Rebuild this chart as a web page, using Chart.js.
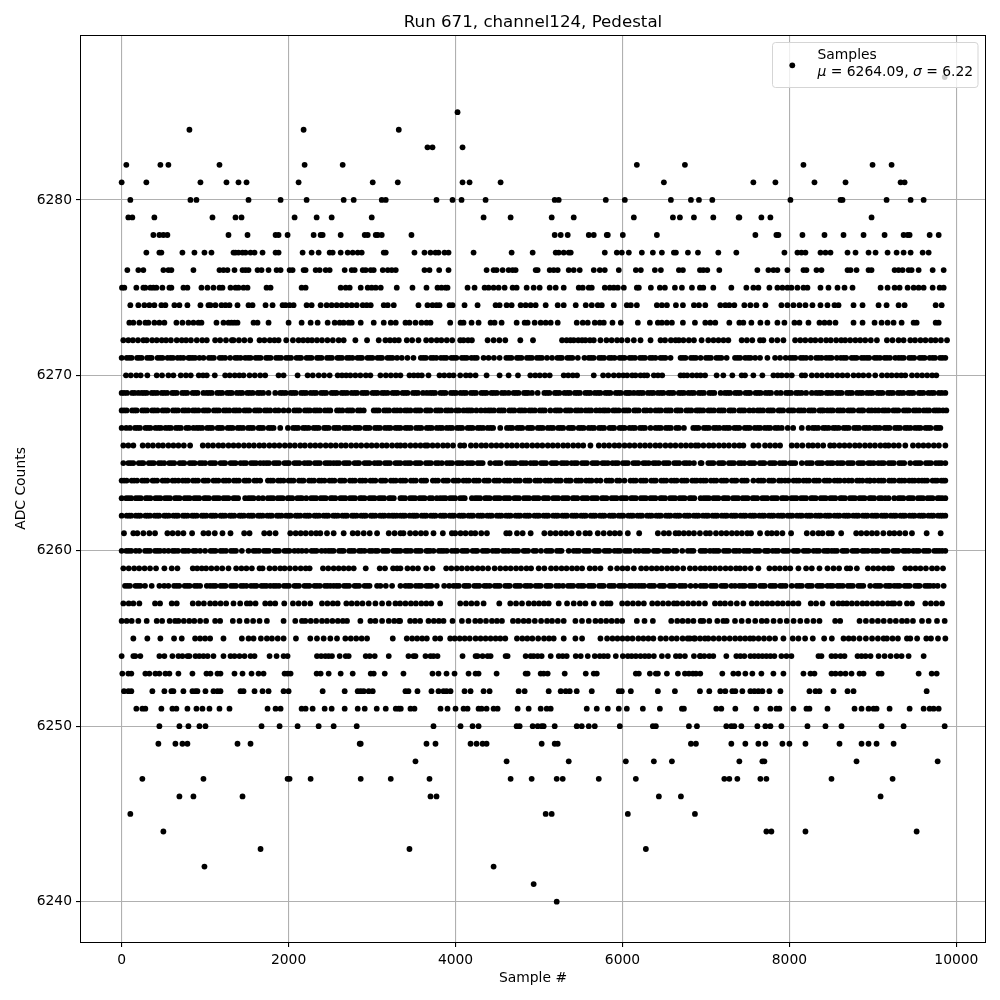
<!DOCTYPE html>
<html>
<head>
<meta charset="utf-8">
<script src="https://cdn.jsdelivr.net/npm/chart.js@4"></script>
<style>
body { margin: 0; background: #fff; }
</style>
</head>
<body>
<canvas id="scatter-chart" width="1000" height="1000"></canvas>
<script>
// sample numbers, one list per ADC level
const adc6287 = [9860];
const adc6285 = [4024];
const adc6284 = [812, 2180, 3320];
const adc6283 = [3664, 3724, 4084];
const adc6282 = [56, 464, 560, 1172, 2192, 2648, 6172, 6748, 8168, 8996, 9224];
const adc6281 = [0, 296, 944, 1256, 1400, 1496, 2120, 3008, 3308, 4084, 4168, 4540, 6496, 7568, 7832, 8300, 8672, 9332, 9380];
const adc6280 = [104, 824, 896, 1520, 1904, 2216, 2660, 2780, 3116, 3164, 3772, 3964, 4072, 4360, 5188, 5236, 5800, 6028, 6580, 6820, 6916, 7076, 8012, 8612, 8636, 9164, 9452, 9608];
const adc6279 = [80, 128, 392, 1088, 1364, 1436, 2072, 2336, 2516, 2996, 4336, 4660, 5152, 5416, 6136, 6604, 6688, 6856, 7088, 7392, 7400, 7664, 7772, 8984];
const adc6278 = [380, 452, 500, 548, 1280, 1508, 1844, 1880, 1988, 2300, 2384, 2408, 2624, 2912, 2948, 3044, 3068, 3116, 3472, 5188, 5260, 5344, 5596, 5656, 5812, 5824, 6004, 6412, 7592, 7844, 7868, 8156, 8420, 8648, 8888, 9140, 9368, 9416, 9440, 9680, 9788];
const adc6277 = [296, 452, 476, 728, 872, 992, 1076, 1340, 1364, 1400, 1448, 1484, 1544, 1592, 1688, 1844, 1880, 2168, 2276, 2360, 2492, 2528, 2624, 2708, 2768, 2828, 2876, 3140, 3164, 3508, 3628, 3700, 3760, 3796, 3868, 3916, 4216, 4672, 4924, 5200, 5236, 5296, 5356, 5380, 5788, 5932, 5992, 6076, 6232, 6364, 6472, 6616, 6640, 6784, 6904, 7148, 7364, 7940, 8096, 8144, 8192, 8372, 8432, 8492, 8696, 8792, 8948, 9032, 9176, 9284, 9368, 9452, 9596, 9668];
const adc6276 = [68, 200, 260, 500, 560, 596, 860, 1172, 1220, 1268, 1352, 1448, 1484, 1520, 1628, 1676, 1760, 1856, 1904, 2012, 2048, 2180, 2204, 2324, 2372, 2444, 2492, 2672, 2756, 2792, 2888, 2924, 2984, 3020, 3128, 3188, 3236, 3284, 3628, 3688, 3804, 3916, 4372, 4456, 4492, 4564, 4636, 4684, 4720, 4960, 4984, 5128, 5176, 5224, 5356, 5416, 5488, 5656, 5728, 5788, 5956, 6160, 6220, 6388, 6460, 6676, 6724, 6928, 6968, 7016, 7160, 7616, 7748, 7808, 7856, 7976, 8168, 8204, 8324, 8384, 8696, 8732, 8804, 8948, 8984, 9260, 9308, 9356, 9428, 9464, 9548, 9716, 9848];
const adc6275 = [4, 32, 176, 260, 284, 344, 380, 416, 488, 572, 596, 740, 788, 956, 1028, 1100, 1172, 1208, 1304, 1364, 1400, 1460, 1508, 1736, 1784, 2156, 2204, 2624, 2684, 2732, 2864, 2948, 2996, 3044, 3104, 3296, 3484, 3652, 3784, 3832, 3880, 3904, 4144, 4228, 4348, 4396, 4456, 4516, 4588, 4684, 4732, 4852, 4936, 5008, 5128, 5200, 5296, 5476, 5524, 5596, 5632, 5788, 5848, 5896, 5944, 6016, 6172, 6196, 6340, 6448, 6508, 6628, 6712, 6832, 6928, 6968, 7088, 7304, 7484, 7568, 7628, 7760, 7856, 7916, 7976, 8024, 8096, 8168, 8216, 8372, 8468, 8576, 8660, 8756, 9092, 9176, 9260, 9320, 9416, 9488, 9548, 9608, 9716, 9800, 9848];
const adc6274 = [104, 200, 272, 332, 392, 476, 524, 632, 692, 788, 944, 1040, 1064, 1124, 1196, 1244, 1292, 1388, 1520, 1568, 1724, 1808, 1928, 1964, 2012, 2060, 2216, 2276, 2384, 2456, 2516, 2576, 2636, 2696, 2756, 2816, 2888, 2936, 2984, 3140, 3188, 3260, 3556, 3664, 3724, 3772, 3808, 3928, 3964, 4108, 4264, 4480, 4528, 4612, 4672, 4780, 4840, 4900, 4960, 5080, 5224, 5296, 5440, 5560, 5632, 5704, 5752, 5896, 6052, 6100, 6172, 6412, 6472, 6532, 6640, 6724, 6856, 6916, 6992, 7172, 7232, 7280, 7340, 7460, 7532, 7604, 7712, 7904, 7976, 8048, 8120, 8192, 8276, 8372, 8456, 8540, 8588, 8768, 8876, 9068, 9164, 9308, 9380, 9752, 9824];
const adc6273 = [92, 140, 212, 284, 320, 392, 452, 512, 656, 728, 800, 860, 920, 956, 1136, 1220, 1280, 1316, 1352, 1388, 1580, 1628, 1760, 2000, 2156, 2264, 2348, 2468, 2552, 2612, 2660, 2720, 2756, 2864, 3020, 3140, 3224, 3284, 3400, 3448, 3520, 3592, 3652, 3700, 3936, 4060, 4096, 4192, 4276, 4420, 4468, 4552, 4732, 4828, 4864, 4948, 5020, 5080, 5140, 5224, 5452, 5524, 5584, 5668, 5728, 5776, 5880, 5980, 6184, 6328, 6424, 6472, 6532, 6592, 6724, 6868, 6992, 7052, 7112, 7280, 7400, 7448, 7544, 7652, 7736, 7856, 7940, 8060, 8120, 8228, 8360, 8420, 8480, 8552, 8768, 8876, 9020, 9104, 9176, 9248, 9344, 9488, 9524, 9752, 9788];
const adc6272 = [20, 80, 135, 196, 260, 300, 365, 420, 480, 532, 590, 660, 720, 772, 830, 900, 965, 1020, 1120, 1180, 1250, 1320, 1340, 1405, 1470, 1540, 1652, 1710, 1775, 1830, 1880, 1972, 2052, 2120, 2175, 2230, 2280, 2340, 2400, 2465, 2530, 2600, 2660, 2800, 2940, 3080, 3160, 3215, 3270, 3320, 3416, 3480, 3556, 3648, 3710, 3775, 3830, 3895, 3960, 4056, 4096, 4150, 4196, 4384, 4456, 4525, 4596, 4776, 4928, 5276, 5330, 5376, 5416, 5470, 5516, 5556, 5610, 5656, 5736, 5808, 5870, 5935, 5990, 6060, 6136, 6216, 6336, 6456, 6510, 6580, 6636, 6676, 6730, 6795, 6856, 6948, 7028, 7090, 7150, 7210, 7268, 7428, 7490, 7555, 7648, 7688, 7788, 7855, 7928, 8068, 8130, 8190, 8255, 8310, 8375, 8440, 8495, 8560, 8620, 8668, 8728, 8790, 8848, 8908, 8975, 9048, 9168, 9235, 9308, 9368, 9448, 9505, 9570, 9630, 9695, 9750, 9815, 9888];
const adc6271 = [0, 60, 120, 185, 240, 305, 360, 430, 490, 550, 615, 670, 740, 800, 820, 880, 932, 980, 1045, 1105, 1175, 1240, 1300, 1360, 1425, 1480, 1545, 1605, 1665, 1730, 1785, 1850, 1910, 1970, 2030, 2095, 2150, 2215, 2275, 2340, 2395, 2460, 2520, 2585, 2640, 2700, 2765, 2825, 2880, 2945, 3005, 3065, 3120, 3185, 3245, 3300, 3356, 3424, 3496, 3584, 3645, 3705, 3770, 3825, 3890, 3950, 4010, 4075, 4135, 4190, 4255, 4336, 4396, 4460, 4528, 4608, 4670, 4735, 4790, 4855, 4915, 4975, 5035, 5096, 5156, 5220, 5275, 5340, 5400, 5465, 5544, 5596, 5655, 5720, 5780, 5840, 5905, 5965, 6025, 6085, 6150, 6210, 6270, 6330, 6395, 6455, 6515, 6576, 6696, 6755, 6820, 6880, 6936, 7000, 7060, 7125, 7185, 7248, 7348, 7410, 7470, 7535, 7590, 7648, 7736, 7828, 7888, 7955, 8008, 8070, 8135, 8200, 8256, 8320, 8385, 8440, 8505, 8568, 8616, 8680, 8745, 8805, 8865, 8928, 8956, 9020, 9085, 9140, 9205, 9268, 9308, 9370, 9435, 9495, 9560, 9620, 9680, 9745, 9805, 9868];
const more6271 = [90, 210, 335, 460, 585, 705, 850, 1075, 1205, 1390, 1515, 1635, 1755, 1880, 2000, 2125, 2245, 2365, 2490, 2610, 2730, 2855, 2975, 3095, 3215, 3615, 3735, 3860, 3980, 4105, 4225, 4640, 4760, 4885, 5005, 5250, 5370, 5625, 5750, 5870, 5995, 6115, 6240, 6360, 6485, 6725, 6850, 7030, 7155, 7380, 7505, 8040, 8165, 8350, 8475, 8650, 8775, 8895, 9050, 9170, 9340, 9465, 9590, 9715, 9835];
const adc6270 = [52, 110, 175, 228, 308, 420, 484, 560, 620, 708, 770, 828, 924, 975, 1020, 1116, 1240, 1295, 1355, 1410, 1460, 1532, 1595, 1660, 1720, 1880, 1940, 2108, 2228, 2290, 2360, 2425, 2492, 2588, 2640, 2690, 2740, 2800, 2860, 2925, 2980, 3100, 3165, 3225, 3285, 3340, 3448, 3500, 3550, 3596, 3676, 3808, 3865, 3925, 3976, 4056, 4124, 4176, 4240, 4372, 4528, 4636, 4748, 4896, 4955, 5010, 5070, 5128, 5296, 5350, 5405, 5456, 5656, 5768, 5830, 5896, 5956, 6010, 6056, 6116, 6156, 6216, 6260, 6296, 6376, 6425, 6476, 6696, 6735, 6776, 6836, 6890, 6936, 6990, 7128, 7208, 7316, 7428, 7468, 7568, 7676, 7808, 7860, 7908, 7968, 8028, 8148, 8188, 8268, 8330, 8390, 8455, 8510, 8575, 8635, 8695, 8768, 8828, 8885, 8950, 9028, 9108, 9170, 9225, 9285, 9340, 9388, 9468, 9530, 9590, 9650, 9710, 9760];
const adc6269 = [0, 65, 125, 200, 240, 300, 360, 425, 480, 545, 605, 660, 725, 785, 850, 910, 980, 1020, 1080, 1145, 1205, 1265, 1320, 1380, 1445, 1505, 1570, 1630, 1695, 1760, 1840, 1900, 1965, 2025, 2085, 2150, 2210, 2265, 2330, 2390, 2450, 2515, 2575, 2635, 2700, 2755, 2820, 2880, 2940, 3005, 3065, 3120, 3185, 3245, 3305, 3365, 3425, 3490, 3550, 3610, 3656, 3696, 3755, 3820, 3880, 3945, 4005, 4060, 4125, 4185, 4245, 4310, 4370, 4430, 4495, 4555, 4636, 4696, 4755, 4820, 4870, 4916, 4984, 5064, 5125, 5190, 5245, 5305, 5370, 5430, 5490, 5555, 5615, 5670, 5735, 5795, 5855, 5920, 5980, 6040, 6090, 6136, 6184, 6245, 6305, 6370, 6425, 6490, 6550, 6610, 6675, 6735, 6790, 6855, 6915, 6975, 7040, 7100, 7176, 7228, 7290, 7350, 7410, 7475, 7530, 7595, 7655, 7715, 7780, 7848, 7896, 7960, 8020, 8080, 8145, 8200, 8268, 8320, 8385, 8445, 8510, 8565, 8625, 8690, 8750, 8810, 8875, 8930, 8995, 9055, 9115, 9180, 9240, 9300, 9365, 9425, 9485, 9550, 9605, 9665, 9730, 9790, 9868];
const more6269 = [30, 155, 270, 390, 510, 630, 755, 880, 1050, 1175, 1295, 1415, 1535, 1660, 1930, 2055, 2180, 2300, 2420, 2545, 2665, 2790, 2910, 3035, 3150, 3275, 3395, 3520, 3725, 3850, 3975, 4095, 4215, 4340, 4460, 4590, 4725, 4845, 5095, 5215, 5340, 5460, 5585, 5705, 5825, 5950, 6065, 6215, 6340, 6460, 6580, 6705, 6825, 6945, 7070, 7260, 7380, 7505, 7625, 7750, 7990, 8110, 8355, 8475, 8595, 8720, 8845, 8965, 9085, 9210, 9330, 9455, 9575, 9700, 9825];
const adc6268 = [0, 60, 125, 180, 245, 305, 365, 430, 490, 550, 615, 675, 735, 800, 855, 920, 980, 1040, 1105, 1165, 1225, 1290, 1345, 1410, 1470, 1530, 1595, 1655, 1715, 1780, 1840, 1880, 1940, 2000, 2068, 2130, 2195, 2255, 2310, 2375, 2435, 2500, 2580, 2645, 2705, 2765, 2830, 2900, 3020, 3080, 3145, 3205, 3265, 3340, 3395, 3460, 3520, 3580, 3645, 3700, 3765, 3825, 3885, 3950, 4010, 4096, 4136, 4195, 4250, 4305, 4356, 4396, 4460, 4520, 4580, 4645, 4705, 4765, 4830, 4885, 4950, 5010, 5070, 5136, 5196, 5255, 5320, 5380, 5440, 5505, 5560, 5625, 5685, 5728, 5768, 5830, 5890, 5955, 6015, 6075, 6140, 6195, 6260, 6336, 6396, 6460, 6520, 6580, 6645, 6700, 6765, 6825, 6885, 6936, 6968, 7030, 7095, 7155, 7215, 7280, 7335, 7400, 7460, 7520, 7568, 7620, 7685, 7745, 7805, 7870, 7925, 7990, 8050, 8110, 8175, 8235, 8295, 8360, 8408, 8456, 8520, 8580, 8645, 8705, 8765, 8830, 8885, 8950, 9028, 9068, 9120, 9185, 9245, 9305, 9370, 9430, 9490, 9555, 9610, 9675, 9735, 9795, 9880];
const more6268 = [30, 155, 275, 395, 520, 645, 765, 885, 1010, 1135, 1255, 1375, 1500, 1625, 1745, 2100, 2225, 2340, 2470, 2610, 2735, 2860, 3050, 3175, 3300, 3425, 3550, 3670, 3795, 3915, 4040, 4165, 4425, 4550, 4675, 4795, 4915, 5040, 5225, 5350, 5470, 5595, 5795, 5920, 6045, 6165, 6290, 6430, 6550, 6670, 6795, 6910, 7060, 7185, 7305, 7430, 7650, 7775, 7895, 8020, 8140, 8265, 8385, 8490, 8610, 8735, 8860, 8985, 9150, 9275, 9400, 9520, 9645, 9765, 9840];
const adc6267 = [0, 55, 100, 160, 220, 285, 345, 405, 470, 525, 590, 650, 710, 775, 860, 900, 965, 1025, 1085, 1150, 1205, 1270, 1330, 1390, 1455, 1515, 1575, 1640, 1695, 1760, 1820, 1900, 1992, 2055, 2115, 2175, 2240, 2300, 2360, 2425, 2480, 2545, 2605, 2665, 2730, 2790, 2850, 2915, 2970, 3035, 3095, 3155, 3220, 3280, 3340, 3400, 3464, 3528, 3590, 3655, 3715, 3775, 3840, 3895, 3960, 4020, 4080, 4145, 4205, 4265, 4330, 4385, 4450, 4536, 4616, 4680, 4740, 4800, 4865, 4920, 4985, 5045, 5105, 5170, 5230, 5290, 5355, 5410, 5475, 5535, 5595, 5660, 5720, 5780, 5845, 5900, 5965, 6025, 6085, 6150, 6210, 6270, 6336, 6396, 6460, 6520, 6580, 6645, 6736, 6848, 6910, 6975, 7035, 7095, 7160, 7215, 7280, 7340, 7400, 7465, 7525, 7585, 7650, 7705, 7770, 7830, 7908, 7980, 8045, 8148, 8228, 8280, 8345, 8405, 8470, 8525, 8590, 8650, 8710, 8775, 8835, 8895, 8960, 9015, 9080, 9140, 9200, 9265, 9325, 9385, 9450, 9505, 9570, 9630, 9690, 9755, 9808];
const more6267 = [190, 315, 440, 560, 680, 805, 930, 1055, 1175, 1300, 1420, 1545, 1665, 1790, 2085, 2205, 2330, 2450, 2575, 2695, 2820, 2940, 3065, 3190, 3310, 3430, 3560, 3685, 3810, 3930, 4050, 4175, 4295, 4420, 4650, 4770, 4895, 5015, 5140, 5260, 5385, 5505, 5630, 5750, 5875, 5995, 6120, 6240, 6430, 6550, 6675, 6880, 7005, 7125, 7250, 7370, 7495, 7620, 7740, 7865, 8310, 8435, 8555, 8680, 8805, 8925, 9045, 9170, 9295, 9415, 9540, 9660, 9780];
const adc6266 = [20, 80, 140, 252, 315, 375, 440, 495, 560, 620, 680, 745, 820, 972, 1035, 1095, 1160, 1215, 1280, 1340, 1400, 1465, 1525, 1585, 1650, 1705, 1770, 1830, 1890, 1955, 2015, 2075, 2140, 2195, 2260, 2320, 2380, 2445, 2505, 2565, 2630, 2685, 2750, 2810, 2870, 2935, 2995, 3055, 3120, 3175, 3240, 3300, 3340, 3395, 3460, 3520, 3580, 3636, 3664, 3725, 3785, 3850, 3905, 3970, 4056, 4104, 4184, 4245, 4310, 4365, 4430, 4490, 4550, 4615, 4675, 4735, 4800, 4855, 4920, 4980, 5040, 5105, 5165, 5225, 5290, 5345, 5410, 5470, 5530, 5616, 5716, 5780, 5840, 5905, 5960, 6025, 6085, 6145, 6210, 6270, 6330, 6395, 6450, 6515, 6575, 6635, 6700, 6760, 6820, 6876, 6908, 6970, 7035, 7090, 7155, 7215, 7275, 7340, 7400, 7448, 7568, 7630, 7708, 7768, 7830, 7888, 8028, 8090, 8155, 8228, 8280, 8340, 8405, 8488, 8536, 8600, 8660, 8720, 8785, 8840, 8905, 8965, 9025, 9090, 9148, 9188, 9250, 9310, 9388, 9480, 9545, 9605, 9665, 9730, 9790, 9868];
const adc6265 = [20, 80, 140, 205, 260, 325, 385, 445, 510, 570, 630, 695, 750, 815, 875, 935, 1000, 1060, 1120, 1185, 1240, 1305, 1365, 1425, 1490, 1550, 1610, 1660, 1700, 1765, 1825, 1885, 1950, 2005, 2070, 2130, 2190, 2255, 2315, 2375, 2440, 2500, 2540, 2605, 2665, 2725, 2790, 2845, 2910, 2970, 3030, 3095, 3155, 3215, 3280, 3340, 3395, 3460, 3520, 3580, 3645, 3705, 3765, 3836, 3896, 3960, 4020, 4085, 4140, 4205, 4265, 4325, 4416, 4476, 4540, 4616, 4656, 4720, 4780, 4845, 4900, 4965, 5025, 5085, 5150, 5210, 5270, 5335, 5390, 5455, 5515, 5575, 5640, 5700, 5760, 5825, 5880, 5945, 6005, 6065, 6130, 6190, 6250, 6315, 6370, 6435, 6495, 6555, 6620, 6680, 6740, 6805, 6856, 6936, 6948, 7028, 7090, 7155, 7210, 7275, 7335, 7395, 7460, 7520, 7580, 7645, 7700, 7765, 7825, 7885, 7950, 8010, 8070, 8148, 8208, 8270, 8335, 8395, 8455, 8520, 8575, 8640, 8700, 8760, 8825, 8885, 8945, 9010, 9065, 9130, 9190, 9250, 9315, 9375, 9448, 9508, 9570, 9635, 9695, 9755, 9820, 9868];
const more6265 = [110, 235, 355, 475, 600, 725, 845, 965, 1090, 1215, 1335, 1460, 1580, 1735, 1855, 1980, 2100, 2225, 2345, 2470, 2575, 2695, 2820, 2940, 3065, 3185, 3310, 3430, 3550, 3675, 3795, 3930, 4050, 4175, 4295, 4510, 4690, 4810, 4935, 5055, 5180, 5300, 5425, 5545, 5670, 5790, 5915, 6035, 6160, 6280, 6400, 6525, 6650, 6770, 7060, 7185, 7305, 7425, 7550, 7675, 7795, 7920, 8040, 8240, 8365, 8490, 8610, 8730, 8855, 8975, 9100, 9220, 9345, 9540, 9665, 9790];
const adc6264 = [0, 60, 120, 185, 245, 305, 370, 425, 490, 550, 610, 680, 732, 795, 855, 915, 980, 1035, 1100, 1160, 1220, 1285, 1345, 1405, 1470, 1525, 1590, 1660, 1752, 1815, 1875, 1940, 2000, 2060, 2125, 2180, 2245, 2305, 2365, 2430, 2490, 2550, 2615, 2670, 2735, 2795, 2855, 2920, 2980, 3040, 3105, 3160, 3225, 3285, 3340, 3400, 3465, 3525, 3590, 3648, 3728, 3790, 3855, 3910, 3975, 4035, 4095, 4160, 4220, 4280, 4345, 4400, 4465, 4525, 4585, 4650, 4710, 4770, 4835, 4890, 4955, 5015, 5075, 5140, 5200, 5260, 5325, 5380, 5445, 5505, 5565, 5630, 5690, 5736, 5808, 5870, 5935, 6024, 6096, 6160, 6220, 6280, 6345, 6400, 6465, 6525, 6585, 6650, 6710, 6770, 6835, 6890, 6936, 7000, 7060, 7125, 7185, 7245, 7310, 7365, 7430, 7490, 7568, 7628, 7690, 7755, 7810, 7875, 7948, 7988, 8050, 8115, 8170, 8235, 8295, 8355, 8420, 8480, 8540, 8605, 8660, 8708, 8748, 8810, 8875, 8930, 8968, 9016, 9068, 9130, 9195, 9255, 9315, 9380, 9435, 9500, 9548, 9588, 9650, 9715, 9770, 9820, 9868];
const more6264 = [30, 150, 275, 395, 520, 640, 765, 885, 1005, 1130, 1250, 1375, 1495, 1620, 1785, 1905, 2030, 2155, 2275, 2395, 2520, 2640, 2765, 2885, 3010, 3130, 3255, 3370, 3495, 3620, 3760, 3885, 4005, 4130, 4250, 4375, 4495, 4620, 4740, 4865, 4985, 5110, 5230, 5355, 5475, 5600, 5840, 5965, 6130, 6250, 6375, 6495, 6620, 6740, 6865, 6970, 7095, 7215, 7340, 7460, 7660, 7785, 7905, 8085, 8205, 8325, 8450, 8575, 8840, 8960, 9100, 9225, 9345, 9470, 9620, 9745, 9845];
const adc6263 = [0, 55, 115, 170, 230, 290, 345, 405, 465, 520, 580, 640, 695, 755, 815, 870, 930, 990, 1045, 1105, 1165, 1220, 1280, 1340, 1395, 1480, 1520, 1580, 1640, 1692, 1752, 1815, 1870, 1930, 1990, 2045, 2105, 2160, 2212, 2270, 2330, 2385, 2445, 2505, 2560, 2620, 2680, 2735, 2795, 2855, 2910, 2970, 3030, 3085, 3145, 3205, 3260, 3340, 3395, 3455, 3515, 3570, 3630, 3690, 3776, 3816, 3880, 3935, 3995, 4055, 4110, 4196, 4236, 4295, 4355, 4410, 4470, 4530, 4585, 4645, 4705, 4760, 4820, 4880, 4935, 4995, 5055, 5110, 5170, 5230, 5285, 5345, 5405, 5460, 5520, 5580, 5635, 5695, 5755, 5810, 5870, 5930, 5985, 6045, 6105, 6160, 6220, 6280, 6335, 6395, 6455, 6510, 6570, 6630, 6685, 6745, 6805, 6860, 6936, 6975, 7035, 7090, 7150, 7210, 7265, 7325, 7385, 7440, 7500, 7560, 7615, 7675, 7735, 7790, 7850, 7910, 7965, 8025, 8085, 8140, 8200, 8260, 8315, 8375, 8435, 8490, 8550, 8610, 8665, 8725, 8785, 8840, 8900, 8960, 9015, 9075, 9148, 9188, 9256, 9308, 9365, 9425, 9480, 9540, 9600, 9655, 9715, 9775, 9830, 9868];
const more6263 = [85, 200, 315, 435, 550, 665, 785, 900, 1015, 1135, 1250, 1365, 1550, 1785, 1900, 2015, 2135, 2300, 2415, 2530, 2650, 2765, 2880, 3000, 3115, 3230, 3365, 3485, 3600, 3720, 3850, 3965, 4085, 4265, 4380, 4500, 4615, 4730, 4850, 4965, 5080, 5200, 5315, 5430, 5550, 5665, 5780, 5900, 6015, 6130, 6250, 6365, 6480, 6600, 6715, 6830, 7005, 7120, 7235, 7355, 7470, 7585, 7705, 7820, 7935, 8055, 8170, 8285, 8405, 8520, 8635, 8755, 8870, 8985, 9105, 9335, 9450, 9570, 9685, 9800];
const adc6262 = [0, 60, 115, 170, 225, 285, 340, 395, 450, 510, 565, 620, 675, 735, 790, 845, 900, 960, 1015, 1070, 1125, 1185, 1240, 1295, 1350, 1410, 1465, 1520, 1575, 1635, 1690, 1745, 1800, 1860, 1915, 1970, 2025, 2085, 2140, 2195, 2250, 2310, 2365, 2420, 2475, 2535, 2590, 2645, 2700, 2760, 2815, 2870, 2925, 2985, 3040, 3095, 3150, 3200, 3240, 3295, 3340, 3395, 3450, 3488, 3536, 3595, 3650, 3705, 3760, 3820, 3875, 3930, 3985, 4045, 4100, 4155, 4210, 4270, 4325, 4380, 4435, 4495, 4550, 4605, 4660, 4720, 4775, 4830, 4885, 4945, 5000, 5055, 5110, 5170, 5225, 5280, 5335, 5395, 5450, 5505, 5560, 5620, 5675, 5730, 5785, 5845, 5900, 5955, 6010, 6070, 6125, 6180, 6235, 6295, 6350, 6405, 6460, 6520, 6575, 6630, 6685, 6745, 6800, 6855, 6910, 6965, 7025, 7080, 7135, 7190, 7250, 7305, 7360, 7415, 7475, 7530, 7585, 7640, 7700, 7755, 7810, 7865, 7925, 7980, 8035, 8090, 8150, 8205, 8260, 8315, 8375, 8430, 8485, 8540, 8600, 8655, 8710, 8765, 8825, 8880, 8935, 8990, 9050, 9105, 9160, 9215, 9275, 9330, 9385, 9440, 9500, 9555, 9610, 9665, 9725, 9780, 9835, 9868];
const more6262 = [90, 200, 310, 425, 535, 650, 760, 870, 985, 1095, 1210, 1320, 1435, 1550, 1660, 1775, 1885, 2000, 2110, 2225, 2335, 2450, 2560, 2675, 2785, 2900, 3010, 3125, 3265, 3370, 3510, 3625, 3735, 3850, 3960, 4075, 4185, 4300, 4410, 4525, 4635, 4750, 4860, 4975, 5085, 5200, 5310, 5425, 5535, 5650, 5760, 5875, 5985, 6100, 6210, 6325, 6435, 6550, 6660, 6775, 6885, 7000, 7110, 7225, 7335, 7450, 7560, 7675, 7785, 7900, 8010, 8125, 8235, 8350, 8460, 8575, 8685, 8800, 8910, 9025, 9135, 9250, 9360, 9475, 9585, 9700, 9810];
const adc6261 = [28, 140, 188, 260, 332, 400, 548, 610, 675, 740, 844, 980, 1040, 1116, 1208, 1304, 1468, 1532, 1708, 1772, 1844, 2020, 2085, 2145, 2205, 2270, 2330, 2380, 2460, 2540, 2660, 2768, 2828, 2900, 2972, 3060, 3200, 3270, 3340, 3376, 3456, 3520, 3585, 3645, 3736, 3848, 3956, 3996, 4060, 4120, 4185, 4236, 4308, 4376, 4608, 4648, 4736, 4804, 4900, 5064, 5136, 5200, 5265, 5325, 5390, 5476, 5556, 5608, 5704, 5775, 5848, 5908, 5968, 6064, 6200, 6424, 6496, 6556, 6636, 6676, 6735, 6795, 6856, 6928, 7000, 7048, 7120, 7185, 7245, 7310, 7370, 7430, 7495, 7540, 7648, 7736, 7788, 7848, 7916, 8020, 8208, 8280, 8348, 8396, 8468, 8508, 8620, 8800, 8860, 8925, 8988, 9048, 9125, 9200, 9256, 9320, 9388, 9468, 9644, 9812];
const adc6260 = [0, 55, 115, 170, 212, 280, 340, 400, 460, 510, 560, 612, 675, 735, 800, 860, 940, 1000, 1065, 1125, 1185, 1250, 1310, 1370, 1440, 1520, 1580, 1645, 1705, 1765, 1830, 1885, 1950, 2010, 2070, 2160, 2212, 2275, 2335, 2395, 2440, 2480, 2540, 2605, 2660, 2725, 2785, 2845, 2910, 2970, 3040, 3068, 3130, 3190, 3255, 3310, 3340, 3400, 3465, 3525, 3585, 3650, 3696, 3736, 3800, 3860, 3896, 3956, 4020, 4080, 4140, 4205, 4260, 4325, 4385, 4445, 4510, 4570, 4636, 4688, 4750, 4815, 4870, 4935, 5024, 5088, 5150, 5215, 5270, 5356, 5416, 5480, 5540, 5600, 5665, 5720, 5785, 5845, 5905, 5970, 6030, 6090, 6155, 6196, 6248, 6310, 6375, 6430, 6495, 6555, 6615, 6716, 6784, 6850, 6936, 6965, 7048, 7088, 7150, 7215, 7275, 7335, 7400, 7455, 7520, 7580, 7640, 7705, 7748, 7800, 7865, 7925, 7985, 8050, 8105, 8170, 8230, 8290, 8355, 8415, 8468, 8508, 8570, 8635, 8690, 8755, 8815, 8875, 8940, 8995, 9060, 9120, 9180, 9245, 9305, 9365, 9430, 9485, 9550, 9610, 9670, 9735, 9795, 9868];
const more6260 = [85, 310, 430, 640, 765, 890, 1095, 1215, 1340, 1610, 1735, 1855, 1980, 2115, 2305, 2510, 2635, 2755, 2875, 3000, 3160, 3285, 3430, 3555, 3670, 3830, 3990, 4110, 4235, 4355, 4480, 4600, 4720, 4840, 4965, 5120, 5245, 5450, 5570, 5695, 5815, 5940, 6060, 6280, 6405, 6525, 6645, 6820, 6995, 7120, 7245, 7365, 7490, 7610, 7730, 7835, 7955, 8080, 8200, 8325, 8445, 8540, 8660, 8785, 8905, 9030, 9150, 9275, 9395, 9520, 9640, 9765, 9830];
const adc6259 = [20, 85, 150, 210, 275, 340, 412, 512, 600, 668, 852, 905, 960, 1012, 1075, 1140, 1205, 1280, 1372, 1435, 1495, 1560, 1652, 1688, 1772, 1835, 1900, 1952, 2015, 2080, 2145, 2205, 2252, 2412, 2475, 2540, 2600, 2660, 2720, 2780, 2924, 3092, 3155, 3252, 3300, 3340, 3424, 3488, 3550, 3648, 3724, 3888, 3950, 4015, 4075, 4140, 4200, 4265, 4325, 4390, 4468, 4536, 4600, 4660, 4725, 4785, 4850, 4905, 4996, 5064, 5144, 5205, 5270, 5330, 5395, 5455, 5516, 5608, 5670, 5736, 5856, 5936, 6000, 6060, 6136, 6224, 6285, 6350, 6410, 6470, 6535, 6595, 6656, 6728, 6808, 6870, 6936, 6990, 7048, 7108, 7170, 7235, 7295, 7360, 7408, 7468, 7536, 7628, 7760, 7825, 7885, 7950, 8010, 8108, 8200, 8268, 8360, 8456, 8528, 8595, 8688, 8728, 8808, 8940, 9005, 9065, 9130, 9190, 9228, 9388, 9448, 9510, 9570, 9635, 9708, 9768, 9840];
const adc6258 = [40, 100, 165, 225, 280, 360, 452, 510, 560, 628, 690, 755, 815, 875, 940, 1020, 1060, 1125, 1185, 1245, 1310, 1370, 1430, 1495, 1550, 1615, 1675, 1735, 1780, 1820, 1885, 1945, 2005, 2070, 2125, 2190, 2250, 2310, 2375, 2435, 2500, 2540, 2605, 2665, 2725, 2790, 2845, 2910, 2970, 3060, 3100, 3165, 3240, 3340, 3400, 3465, 3525, 3590, 3650, 3710, 3775, 3864, 3924, 3976, 4040, 4105, 4160, 4225, 4285, 4345, 4410, 4470, 4530, 4595, 4650, 4715, 4775, 4835, 4900, 4960, 5020, 5085, 5140, 5205, 5288, 5348, 5410, 5470, 5535, 5595, 5655, 5720, 5775, 5840, 5900, 5960, 6025, 6085, 6156, 6196, 6260, 6320, 6380, 6445, 6500, 6565, 6625, 6685, 6750, 6816, 6876, 6936, 7000, 7060, 7120, 7185, 7240, 7305, 7348, 7400, 7465, 7525, 7585, 7650, 7705, 7770, 7830, 7890, 7955, 8028, 8088, 8150, 8215, 8270, 8335, 8395, 8455, 8520, 8575, 8640, 8700, 8760, 8825, 8885, 8968, 9028, 9090, 9155, 9208, 9256, 9320, 9380, 9440, 9505, 9560, 9625, 9685, 9728, 9776, 9848];
const more6258 = [70, 195, 660, 785, 905, 1095, 1215, 1340, 1460, 1585, 1705, 1850, 1975, 2095, 2220, 2340, 2465, 2575, 2695, 2815, 2940, 3435, 3560, 3680, 4010, 4130, 4255, 4375, 4500, 4625, 4745, 4865, 4990, 5110, 5240, 5380, 5505, 5625, 5750, 5870, 5990, 6115, 6230, 6350, 6475, 6595, 6715, 6970, 7090, 7215, 7435, 7555, 7680, 7800, 7920, 8120, 8240, 8365, 8490, 8605, 8730, 8855, 9060, 9185, 9290, 9410, 9535, 9655];
const adc6257 = [20, 85, 140, 212, 400, 460, 600, 660, 852, 920, 985, 1060, 1120, 1185, 1252, 1340, 1420, 1500, 1540, 1604, 1720, 1780, 1840, 1948, 2052, 2120, 2190, 2260, 2400, 2465, 2530, 2588, 2692, 2755, 2820, 2885, 2960, 3040, 3120, 3200, 3280, 3336, 3400, 3465, 3525, 3590, 3650, 3710, 3816, 4056, 4125, 4190, 4256, 4336, 4524, 4656, 4725, 4796, 4876, 4940, 5000, 5060, 5116, 5236, 5336, 5416, 5490, 5556, 5656, 5756, 5816, 5856, 5996, 6060, 6125, 6190, 6256, 6356, 6420, 6485, 6550, 6616, 6656, 6720, 6785, 6850, 6916, 6988, 7108, 7170, 7228, 7296, 7370, 7448, 7548, 7610, 7675, 7735, 7795, 7860, 7920, 7985, 8045, 8108, 8256, 8320, 8396, 8520, 8588, 8640, 8688, 8748, 8810, 8875, 8930, 8995, 9055, 9115, 9180, 9228, 9256, 9320, 9408, 9468, 9628, 9695, 9760, 9828];
const adc6256 = [0, 60, 120, 200, 300, 420, 485, 575, 640, 680, 745, 810, 870, 940, 1012, 1120, 1180, 1332, 1412, 1500, 1575, 1652, 1740, 1940, 2080, 2160, 2200, 2265, 2330, 2400, 2460, 2525, 2590, 2650, 2700, 2860, 2980, 3040, 3120, 3200, 3265, 3320, 3336, 3456, 3515, 3576, 3676, 3740, 3800, 3856, 3964, 4076, 4155, 4236, 4296, 4365, 4436, 4496, 4556, 4688, 4750, 4816, 4876, 4950, 5025, 5096, 5156, 5225, 5296, 5436, 5515, 5596, 5676, 5740, 5805, 5870, 5935, 5996, 6172, 6264, 6364, 6584, 6656, 6720, 6785, 6850, 6936, 6968, 7040, 7136, 7208, 7248, 7348, 7428, 7508, 7590, 7668, 7728, 7810, 7888, 7968, 8050, 8130, 8210, 8288, 8360, 8548, 8608, 8840, 8916, 8990, 9060, 9130, 9205, 9275, 9348, 9408, 9480, 9588, 9668, 9768, 9860];
const adc6255 = [140, 308, 464, 628, 720, 880, 940, 1000, 1060, 1220, 1440, 1520, 1580, 1668, 1740, 1800, 1870, 1940, 2088, 2260, 2340, 2420, 2500, 2580, 2680, 2745, 2810, 2875, 2940, 3248, 3416, 3480, 3540, 3600, 3656, 3756, 3816, 3936, 3990, 4050, 4110, 4170, 4240, 4300, 4360, 4420, 4480, 4536, 4596, 4736, 4800, 4860, 4920, 4990, 5060, 5120, 5176, 5296, 5436, 5516, 5736, 5816, 5880, 5940, 6000, 6060, 6120, 6190, 6250, 6310, 6370, 6456, 6520, 6590, 6650, 6720, 6780, 6808, 6856, 6870, 6930, 6988, 7028, 7090, 7155, 7220, 7285, 7350, 7410, 7470, 7528, 7568, 7630, 7695, 7760, 7828, 7928, 8040, 8108, 8188, 8280, 8416, 8508, 8648, 8710, 8768, 8840, 8916, 8990, 9060, 9128, 9168, 9235, 9300, 9408, 9448, 9530, 9640, 9696, 9780, 9868];
const adc6254 = [0, 140, 164, 224, 452, 512, 608, 680, 728, 788, 812, 884, 930, 980, 1030, 1100, 1220, 1304, 1352, 1412, 1472, 1544, 1592, 1772, 1856, 1940, 1988, 2340, 2390, 2440, 2480, 2520, 2612, 2684, 2720, 2924, 2972, 3032, 3200, 3436, 3496, 3520, 3640, 3700, 3736, 3784, 4084, 4240, 4264, 4324, 4384, 4420, 4600, 4624, 4840, 4900, 4936, 4984, 5032, 5140, 5236, 5284, 5332, 5440, 5500, 5584, 5668, 5728, 5776, 5824, 5920, 6004, 6064, 6110, 6160, 6216, 6268, 6316, 6376, 6472, 6544, 6640, 6688, 6748, 6856, 6928, 6932, 6980, 7040, 7088, 7244, 7364, 7412, 7460, 7532, 7580, 7628, 7676, 7724, 7772, 7820, 7904, 7964, 8024, 8348, 8384, 8504, 8552, 8612, 8660, 8816, 8864, 8912, 8972, 9068, 9140, 9212, 9284, 9344, 9428, 9608];
const adc6253 = [8, 80, 116, 284, 332, 404, 452, 524, 572, 680, 848, 1016, 1064, 1148, 1184, 1352, 1448, 1556, 1640, 1700, 1952, 1988, 2024, 2336, 2384, 2480, 2624, 2768, 2984, 3020, 3152, 3376, 3724, 3796, 3892, 3988, 4156, 4240, 4276, 4492, 4840, 4864, 5020, 5056, 5104, 5308, 5560, 5656, 5692, 6160, 6196, 6328, 6400, 6424, 6532, 6664, 6748, 6796, 6844, 6880, 6932, 7196, 7328, 7388, 7472, 7556, 7664, 7808, 7928, 8168, 8252, 8300, 8504, 8552, 8612, 8672, 8744, 8840, 8888, 9068, 9104, 9548, 9704, 9764];
const adc6252 = [28, 80, 116, 368, 512, 596, 620, 740, 848, 884, 908, 1004, 1100, 1148, 1184, 1424, 1460, 1592, 1688, 1760, 1940, 2000, 2408, 2672, 2828, 2864, 2900, 2960, 3008, 3400, 3436, 3544, 3712, 3796, 3856, 3892, 3940, 4108, 4180, 4336, 4408, 4756, 4828, 5116, 5260, 5320, 5368, 5452, 5632, 5956, 5992, 6100, 6424, 6628, 6928, 7040, 7172, 7232, 7316, 7352, 7436, 7532, 7580, 7628, 7676, 7760, 7892, 8240, 8312, 8360, 8528, 8696, 8768, 9644];
const adc6251 = [176, 248, 284, 476, 608, 656, 788, 896, 968, 1052, 1172, 1292, 1748, 1844, 1904, 2156, 2204, 2288, 2432, 2516, 2672, 2828, 2912, 3056, 3164, 3284, 3320, 3344, 3460, 3508, 3820, 3904, 4000, 4096, 4144, 4276, 4312, 4372, 4456, 4504, 4744, 4876, 5020, 5092, 5140, 5572, 5692, 5824, 5956, 6052, 6244, 6448, 6712, 6736, 7124, 7184, 7352, 7604, 7772, 7844, 7880, 8048, 8204, 8240, 8456, 8780, 8864, 8948, 9008, 9044, 9200, 9440, 9608, 9680, 9728, 9788];
const adc6250 = [452, 692, 800, 932, 1004, 1676, 1892, 2108, 2360, 2540, 2816, 3736, 4060, 4204, 4276, 4732, 4768, 4924, 4984, 5032, 5056, 5188, 5452, 5512, 5596, 5668, 5968, 6364, 6400, 6796, 6892, 7244, 7304, 7340, 7424, 7616, 7712, 7772, 7904, 8216, 8432, 8624, 9104, 9368, 9860];
const adc6249 = [440, 644, 728, 788, 1388, 1544, 2852, 2864, 3652, 3760, 4180, 4252, 4324, 4372, 5032, 5188, 5224, 6820, 6880, 7304, 7472, 7628, 7712, 7916, 8000, 8192, 8600, 8864, 8948, 9044, 9248];
const adc6248 = [3520, 4612, 5356, 6040, 6376, 6592, 7400, 7676, 7700, 8804, 9776];
const adc6247 = [248, 980, 1988, 2012, 2264, 2864, 3224, 3688, 4660, 4912, 5212, 5284, 5716, 6160, 7220, 7280, 7376, 7652, 7724, 8504, 9236];
const adc6246 = [692, 860, 1448, 3700, 3772, 6436, 6700, 9092];
const adc6245 = [104, 5080, 5152, 6064, 6868];
const adc6244 = [500, 7724, 7784, 8192, 9524];
const adc6243 = [1664, 3448, 6280];
const adc6242 = [992, 4456];
const adc6241 = [4936];
const adc6240 = [5212];

const levels = [
    [6287, adc6287], [6285, adc6285], [6284, adc6284], [6283, adc6283], [6282, adc6282],
    [6281, adc6281], [6280, adc6280], [6279, adc6279], [6278, adc6278], [6277, adc6277],
    [6276, adc6276], [6275, adc6275], [6274, adc6274], [6273, adc6273], [6272, adc6272],
    [6271, adc6271], [6271, more6271], [6270, adc6270], [6269, adc6269], [6269, more6269],
    [6268, adc6268], [6268, more6268], [6267, adc6267], [6267, more6267], [6266, adc6266],
    [6265, adc6265], [6265, more6265], [6264, adc6264], [6264, more6264], [6263, adc6263],
    [6263, more6263], [6262, adc6262], [6262, more6262], [6261, adc6261], [6260, adc6260],
    [6260, more6260], [6259, adc6259], [6258, adc6258], [6258, more6258], [6257, adc6257],
    [6256, adc6256], [6255, adc6255], [6254, adc6254], [6253, adc6253], [6252, adc6252],
    [6251, adc6251], [6250, adc6250], [6249, adc6249], [6248, adc6248], [6247, adc6247],
    [6246, adc6246], [6245, adc6245], [6244, adc6244], [6243, adc6243], [6242, adc6242],
    [6241, adc6241], [6240, adc6240]
];

const xTicks = [0, 2000, 4000, 6000, 8000, 10000];
const yTicks = [6240, 6250, 6260, 6270, 6280];

const points = [];
levels.forEach(function (row) {
    row[1].forEach(function (sample) {
        points.push({x: sample, y: row[0]});
    });
});

const fontName = "'DejaVu Sans'";

// frame on all four sides plus the matplotlib style legend
const framePlugin = {
    id: 'frame',
    afterDraw: function (chart) {
        const ctx = chart.ctx;
        const area = chart.chartArea;
        ctx.save();
        ctx.strokeStyle = '#000';
        ctx.lineWidth = 1;
        ctx.strokeRect(area.left - 0.5, area.top + 0.5, area.right - area.left + 1, area.bottom - area.top);

        ctx.beginPath();
        ctx.roundRect(772.5, 42.5, 205.5, 45, 3);
        ctx.fillStyle = 'rgba(255,255,255,0.8)';
        ctx.fill();
        ctx.strokeStyle = '#d5d5d5';
        ctx.stroke();

        ctx.beginPath();
        ctx.arc(792.3, 65.3, 2.9, 0, Math.PI * 2);
        ctx.fillStyle = '#000';
        ctx.fill();

        ctx.textBaseline = 'alphabetic';
        ctx.font = '13.89px ' + fontName;
        ctx.fillText('Samples', 817.5, 59);
        let x = 817.5;
        [['\u03bc', true], [' = 6264.09, ', false], ['\u03c3', true], [' = 6.22', false]].forEach(function (part) {
            ctx.font = (part[1] ? 'italic ' : '') + '13.89px ' + fontName;
            ctx.fillText(part[0], x, 76);
            x += ctx.measureText(part[0]).width;
        });
        ctx.restore();
    }
};

new Chart(document.getElementById('scatter-chart'), {
    type: 'scatter',
    data: {
        datasets: [
            {
                data: points,
                label: 'Samples',
                backgroundColor: '#000',
                borderWidth: 0,
                pointRadius: 2.9
            }
        ]
    },
    options: {
        responsive: false,
        animation: false,
        events: [],
        layout: {
            padding: {right: 15}
        },
        plugins: {
            legend: {display: false},
            tooltip: {enabled: false},
            title: {
                display: true,
                fullSize: false,
                text: 'Run 671, channel124, Pedestal',
                color: '#000',
                font: {family: fontName, size: 16.67, weight: 'normal', lineHeight: 1},
                padding: {top: 14, bottom: 4.33}
            }
        },
        scales: {
            x: {
                type: 'linear',
                min: -487,
                max: 10343,
                afterBuildTicks: function (axis) {
                    axis.ticks = xTicks.map(function (v) { return {value: v}; });
                },
                afterFit: function (axis) { axis.height = 58; },
                grid: {color: '#b0b0b0', lineWidth: 1.1, tickColor: '#000', tickLength: 5},
                border: {display: false},
                ticks: {
                    color: '#000',
                    maxRotation: 0,
                    padding: 5,
                    font: {family: fontName, size: 13.89},
                    callback: function (v) { return String(v); }
                },
                title: {
                    display: true,
                    text: 'Sample #',
                    color: '#000',
                    font: {family: fontName, size: 13.89},
                    padding: {top: 0, bottom: 13}
                }
            },
            y: {
                type: 'linear',
                min: 6237.7,
                max: 6289.4,
                afterBuildTicks: function (axis) {
                    axis.ticks = yTicks.map(function (v) { return {value: v}; });
                },
                afterFit: function (axis) { axis.width = 81; },
                grid: {color: '#b0b0b0', lineWidth: 1.1, tickColor: '#000', tickLength: 5},
                border: {display: false},
                ticks: {
                    color: '#000',
                    padding: 4,
                    font: {family: fontName, size: 13.89},
                    callback: function (v) { return String(v); }
                },
                title: {
                    display: true,
                    text: 'ADC Counts',
                    color: '#000',
                    font: {family: fontName, size: 13.89},
                    padding: {top: 13, bottom: 0}
                }
            }
        }
    },
    plugins: [framePlugin]
});
</script>
</body>
</html>
